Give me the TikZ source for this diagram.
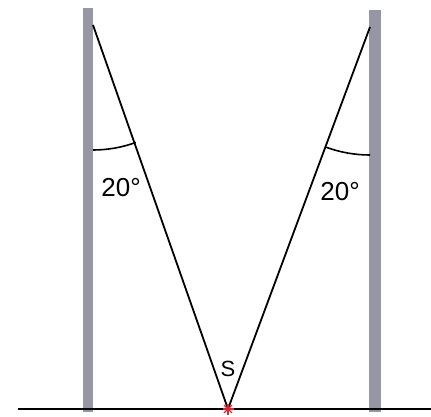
\documentclass[tikz,border=0pt]{standalone}
\usepackage{fontspec}
\setmainfont{Liberation Sans}
\usepackage{tikz}
\usetikzlibrary{positioning}

\definecolor{postgray}{RGB}{150,150,164}
\definecolor{starred}{RGB}{220,40,50}

\begin{document}
\begin{tikzpicture}[
    x=1pt, y=1pt,
    post/.style={fill=postgray, draw=none},
    rope/.style={draw, line width=1.8pt, black},
    anglearc/.style={draw, line width=1.6pt, black},
    angle label/.style={font=\fontsize{26}{30}\selectfont, inner sep=0pt},
    starline/.style={starred, line width=1.3pt},
  ]
  \useasboundingbox (0,0) rectangle (431,416);

  % Posts
  \fill[post] (83,4) rectangle (93,408);
  \fill[post] (369,4) rectangle (381,406);

  % Ground
  \draw[line width=2.2pt] (18,7) -- (431,7);

  % Points
  \coordinate (A) at (93,391);   % top left
  \coordinate (B) at (370,389);  % top right
  \coordinate (S) at (228,7);    % bottom

  % Ropes
  \draw[rope] (A) -- (S);
  \draw[rope] (B) -- (S);

  % Angle arcs
  \draw[anglearc] (A) ++(270:125) arc (270:290:125);
  \draw[anglearc] (B) ++(270:128) arc (270:250:128);

  % Labels
  \node[angle label] (l1) at (121,228) {20°};
  \node[angle label] (l2) at (340,224) {20°};
  \node[angle label, font=\fontsize{22}{26}\selectfont] (s) at (228,47) {S};

  % Star at S
  \foreach \a in {0,45,...,315}
    \draw[starline] (S) -- ++(\a:5.5);

\end{tikzpicture}
\end{document}
